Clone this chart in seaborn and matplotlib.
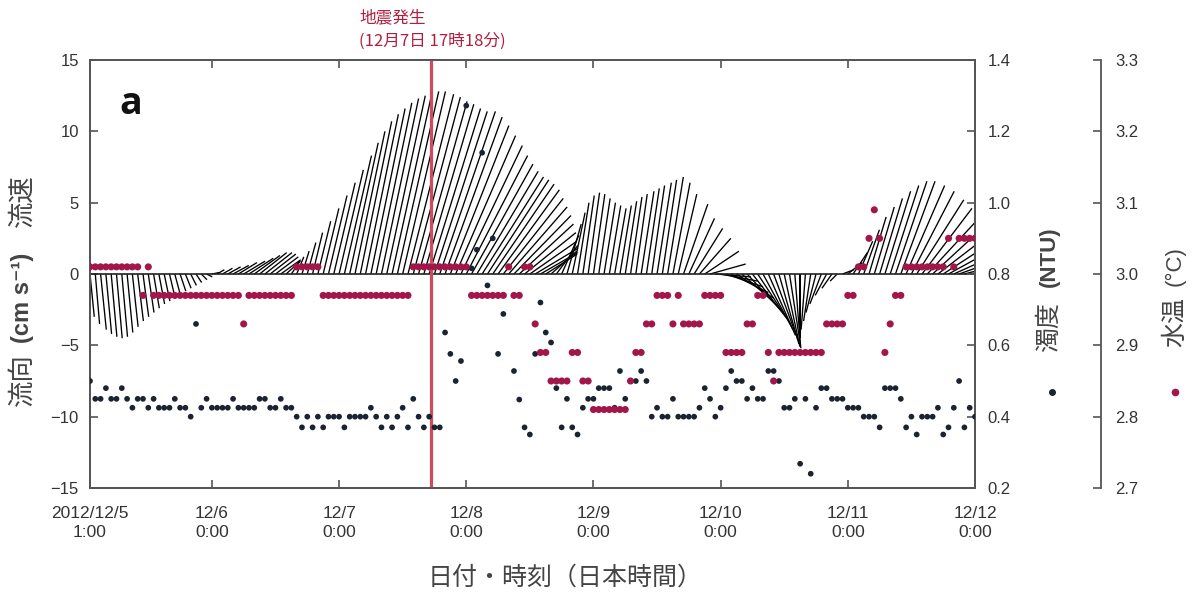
import numpy as np
import pandas as pd
import matplotlib
matplotlib.use("Agg")
import matplotlib.pyplot as plt
from matplotlib.lines import Line2D
import seaborn as sns

# ---- hourly readings, 2012/12/5 1:00 -> 2012/12/12 0:00 (one row per day) ----
# current: east (u) and north (v) components, cm/s
u_days = [
    [0.3, 0.3, 0.4, 0.4, 0.4, 0.4, 0.4, 0.4, 0.4, 0.4, 0.4, 0.4, 0.4, 0.4, 0.4, 0.4, 0.4, 0.4, 0.4, 0.4, 0.4, 0.4, 0.4, 0.5],
    [0.5, 0.7, 0.9, 1.1, 1.3, 1.5, 1.7, 1.8, 1.9, 1.9, 1.8, 1.6, 1.4, 1.0, 0.6, 0.5, 0.5, 0.6, 0.7, 0.9, 1.1, 1.3, 1.5, 1.7],
    [1.9, 2.0, 2.1, 2.2, 2.3, 2.4, 2.5, 2.6, 2.7, 2.8, 2.9, 3.0, 3.2, 3.3, 3.4, 3.5, 3.6, 3.7, 3.9, 4.0, 4.1, 4.2, 4.3, 4.3],
    [4.3, 4.3, 4.3, 4.3, 4.3, 4.3, 4.2, 4.1, 4.0, 3.8, 3.6, 3.3, 3.0, 2.6, 2.2, 1.8, 1.5, 1.2, 1.0, 0.9, 0.8, 0.8, 0.8, 0.8],
    [0.8, 0.8, 0.8, 0.8, 0.8, 0.8, 0.8, 0.8, 0.9, 0.9, 0.9, 1.0, 1.0, 1.1, 1.2, 1.3, 1.7, 1.8, 2.0, 2.2, 2.4, 2.5, 2.5, 2.6],
    [2.6, 2.6, 2.6, 2.5, 2.5, 2.4, 2.3, 2.1, 1.9, 1.7, 1.4, 1.1, 0.8, 0.4, 0.0, -0.3, -0.5, -0.7, -0.8, -0.8, -0.7, -0.5, 0.8, 1.0],
    [1.0, 1.0, 1.1, 1.2, 1.4, 1.6, 1.8, 2.0, 2.2, 2.4, 2.7, 3.0, 3.3, 3.5, 3.7, 3.8, 3.9, 4.0, 4.0, 4.0, 3.9, 3.8, 3.6, 3.4],
]
v_days = [
    [-3.0, -3.5, -3.9, -4.2, -4.4, -4.5, -4.4, -4.1, -3.7, -3.3, -3.0, -2.7, -2.4, -2.1, -1.9, -1.7, -1.5, -1.2, -1.0, -0.8, -0.6, -0.4, -0.2, 0.1],
    [0.3, 0.4, 0.5, 0.6, 0.8, 0.9, 1.1, 1.3, 1.5, 1.5, 1.4, 1.2, 1.0, 0.9, 0.9, 1.2, 1.6, 2.2, 2.9, 3.7, 4.6, 5.5, 6.4, 7.3],
    [8.3, 9.2, 10.0, 10.7, 11.2, 11.6, 12.0, 12.3, 12.5, 12.7, 12.8, 12.8, 12.6, 12.4, 12.1, 11.9, 11.6, 11.4, 11.4, 11.0, 10.4, 9.7, 9.0, 8.3],
    [7.7, 7.2, 6.8, 6.6, 6.3, 5.9, 5.3, 4.7, 4.1, 3.5, 2.9, 2.3, 1.8, 1.5, 1.4, 1.6, 2.0, 2.7, 3.5, 4.3, 5.0, 5.5, 5.7, 5.6],
    [5.3, 5.0, 4.8, 4.6, 4.8, 5.1, 5.4, 5.6, 5.8, 6.0, 6.2, 6.4, 6.6, 6.8, 6.4, 5.6, 4.9, 3.9, 3.2, 2.5, 1.6, 0.7, -0.2, -0.5],
    [-0.9, -1.3, -1.7, -2.2, -2.7, -3.1, -3.5, -3.9, -4.3, -4.6, -4.9, -5.1, -5.2, -5.0, -4.5, -3.9, -3.3, -2.7, -2.1, -1.5, -1.0, -0.5, 0.3, 0.8],
    [1.5, 2.3, 3.1, 4.0, 4.7, 5.3, 5.8, 6.2, 6.5, 6.5, 6.2, 5.8, 5.2, 4.6, 4.0, 3.5, 3.0, 2.6, 2.2, 1.8, 1.4, 1.0, 0.6, 0.3],
]
# turbidity, NTU
turb_days = [
    [0.50, 0.45, 0.45, 0.48, 0.45, 0.45, 0.48, 0.45, 0.425, 0.45, 0.45, 0.425, 0.45, 0.425, 0.425, 0.425, 0.45, 0.425, 0.425, 0.40, 0.66, 0.425, 0.45, 0.425],
    [0.425, 0.425, 0.425, 0.45, 0.425, 0.425, 0.425, 0.425, 0.45, 0.45, 0.425, 0.425, 0.45, 0.425, 0.425, 0.40, 0.37, 0.40, 0.37, 0.40, 0.37, 0.40, 0.40, 0.40],
    [0.37, 0.40, 0.40, 0.40, 0.40, 0.425, 0.40, 0.37, 0.40, 0.37, 0.40, 0.425, 0.37, 0.45, 0.40, 0.37, 0.40, 0.37, 0.37, 0.636, 0.576, 0.50, 0.556, 1.272],
    [0.816, 0.868, 1.14, 0.768, 0.90, 0.576, 0.688, np.nan, 0.528, 0.448, 0.37, 0.35, 0.576, 0.72, 0.636, 0.608, 0.48, 0.37, 0.45, 0.37, 0.35, 0.425, 0.45, 0.45],
    [0.48, 0.48, 0.48, 0.425, 0.528, 0.45, 0.50, 0.50, 0.528, 0.50, 0.40, 0.425, 0.40, 0.40, 0.45, 0.40, 0.40, 0.40, 0.40, 0.425, 0.48, 0.45, 0.40, 0.425],
    [0.48, 0.528, 0.50, 0.50, 0.45, 0.48, 0.45, 0.45, 0.528, 0.528, 0.50, 0.425, 0.425, 0.45, 0.268, 0.45, 0.24, 0.425, 0.48, 0.48, 0.45, 0.45, 0.45, 0.425],
    [0.425, 0.425, 0.40, 0.40, 0.40, 0.37, 0.48, 0.48, 0.48, 0.45, 0.37, 0.40, 0.35, 0.40, 0.40, 0.40, 0.425, 0.35, 0.37, 0.425, 0.50, 0.37, 0.425, 0.40],
]
# water temperature: logger steps, one letter per hour
temp_levels = {"A": 3.09, "B": 3.05, "C": 3.01, "D": 2.97, "E": 2.93, "F": 2.89, "G": 2.85, "H": 2.81}
temp_days = [
    "CCCCCCCCCCDCDDDDDDDDDDDD",
    "DDDDDEDDDDDDDDDCCCCCDDDD",
    "DDDDDDDDDDDDDCCCCCCCCCCC",
    "DDDDDDDCDDCCEFFGGGGFFGGH",
    "HHHHHHGFFEEDDDEDEEEEDDDD",
    "FFFFEEDDFGFFFFFFFFFEEEED",
    "DCCBABFEDDCCCCCCCCBCBBBB",
]

start = pd.Timestamp("2012-12-05 01:00")
quake = pd.Timestamp("2012-12-07 17:18")
tick_times = ["2012-12-05 01:00", "2012-12-06 00:00", "2012-12-07 00:00", "2012-12-08 00:00",
              "2012-12-09 00:00", "2012-12-10 00:00", "2012-12-11 00:00", "2012-12-12 00:00"]
tick_labels = ["2012/12/5\n1:00", "12/6\n0:00", "12/7\n0:00", "12/8\n0:00",
               "12/9\n0:00", "12/10\n0:00", "12/11\n0:00", "12/12\n0:00"]

u = sum(u_days, [])
v = sum(v_days, [])
turb = sum(turb_days, [])
temp = [temp_levels[c] for c in "".join(temp_days)]
times = pd.date_range(start, periods=len(u), freq="h")
one_h = pd.Timedelta(hours=1)
df = pd.DataFrame({"hour": (times - start) / one_h, "u": u, "v": v,
                   "turb": turb, "temp": temp})
tick_hours = [(pd.Timestamp(t) - start) / one_h for t in tick_times]
quake_h = (quake - start) / one_h

# ---- style ----
sns.set_style("ticks")
plt.rcParams["font.family"] = ["Liberation Sans", "Noto Sans CJK JP", "DejaVu Sans"]
JP = ["Noto Sans CJK JP", "DejaVu Sans"]
SPINE = "#555555"
TXT = "#333333"
BLK = "#1b2230"
RED = "#a3164a"

W, H = 1197, 597
def px(x, y):
    return x / W, 1 - y / H

fig = plt.figure(figsize=(W / 100, H / 100), dpi=100)
ax = fig.add_axes([90 / W, 1 - 488 / H, 885 / W, 428 / H])

# stick plot of the current vectors
ax.quiver(df["hour"], np.zeros(len(df)), df["u"], df["v"], angles="uv",
          scale_units="y", scale=1, width=0.0015, headwidth=0, headlength=0,
          headaxislength=0, minlength=0, pivot="tail", color="#000000", zorder=2)
ax.axhline(0, color="#222222", lw=1.2, zorder=3)
ax.axvline(quake_h, color="#cc4b5c", lw=2.3, zorder=4)

ax.set_xlim(tick_hours[0], tick_hours[-1])
ax.set_ylim(-15, 15)
ax.set_yticks(range(-15, 16, 5))
ax.set_xticks(tick_hours)
ax.set_xticklabels(tick_labels, linespacing=1.3)
ax.tick_params(axis="both", direction="in", length=6, width=1.2, color=SPINE,
               labelcolor=TXT, labelsize=12)
ax.tick_params(axis="x", top=True, pad=13, labelsize=12.5)
ax.tick_params(axis="y", pad=8)

# turbidity
ax2 = ax.twinx()
sns.scatterplot(data=df, x="hour", y="turb", ax=ax2, color=BLK, s=17,
                edgecolor="none", zorder=5)
ax2.set_ylim(0.2, 1.4)
ax2.set_yticks(np.round(np.arange(0.2, 1.41, 0.2), 1))
ax2.set_yticklabels([f"{t:.1f}" for t in ax2.get_yticks()])
ax2.tick_params(axis="y", direction="in", length=6, width=1.2, color=SPINE,
                labelcolor=TXT, labelsize=12, pad=9)
ax2.set_ylabel("")
ax2.set_xlabel("")

# water temperature on an offset axis
ax3 = ax.twinx()
ax3.spines["right"].set_position(("axes", (1101 - 90) / 885))
for s in ["left", "top", "bottom"]:
    ax3.spines[s].set_visible(False)
sns.scatterplot(data=df, x="hour", y="temp", ax=ax3, color=RED, s=26,
                edgecolor="none", zorder=6)
ax3.set_ylim(2.7, 3.3)
ax3.set_yticks(np.round(np.arange(2.7, 3.31, 0.1), 1))
ax3.set_yticklabels([f"{t:.1f}" for t in ax3.get_yticks()])
ax3.tick_params(axis="y", direction="in", length=6, width=1.2, color=SPINE,
                labelcolor=TXT, labelsize=12, pad=10)
ax3.set_ylabel("")
ax3.set_xlabel("")

for a in (ax, ax2, ax3):
    for sp in a.spines.values():
        sp.set_color(SPINE)
        sp.set_linewidth(1.3)

# ---- texts ----
ax.set_xlabel("")
ax.set_ylabel("")
fig.text(*px(22, 380), "流向", rotation=90, ha="center", va="center",
         fontsize=19, family=JP, color="#444444")
fig.text(*px(22, 298), "(cm s⁻¹)", rotation=90, ha="center", va="center",
         fontsize=17, fontweight="bold", family=["Liberation Sans", "DejaVu Sans"],
         color="#444444")
fig.text(*px(22, 201), "流速", rotation=90, ha="center", va="center",
         fontsize=19, family=JP, color="#444444")

fig.text(*px(1049, 327), "濁度", rotation=90, ha="center", va="center",
         fontsize=18, family=JP, color="#444444")
fig.text(*px(1049, 257), "(NTU)", rotation=90, ha="center", va="center",
         fontsize=16, fontweight="bold", color="#444444")
fig.text(*px(1175, 322), "水温", rotation=90, ha="center", va="center",
         fontsize=18, family=JP, color="#444444")
fig.text(*px(1175, 266), "(°C)", rotation=90, ha="center", va="center",
         fontsize=16, color="#444444")
fig.add_artist(Line2D([1052 / W], [1 - 392 / H], marker="o", ms=4, color=BLK,
                      lw=0, transform=fig.transFigure))
fig.add_artist(Line2D([1175 / W], [1 - 392 / H], marker="o", ms=4.5, color=RED,
                      lw=0, transform=fig.transFigure))

fig.text(*px(565, 578), "日付・時刻（日本時間）", ha="center", va="center",
         fontsize=18, family=JP, color="#444444")
fig.text(*px(359, 18), "地震発生", ha="left", va="center", fontsize=12,
         family=JP, color="#b0203e")
fig.text(*px(359, 41), "(12月7日 17時18分)", ha="left", va="center", fontsize=12,
         family=JP, color="#b0203e")
fig.text(*px(131, 104), "a", ha="center", va="center", fontsize=27,
         fontweight="bold", family=["Open Sans", "DejaVu Sans"], color="#111111")

fig.savefig("out.png", dpi=100)
